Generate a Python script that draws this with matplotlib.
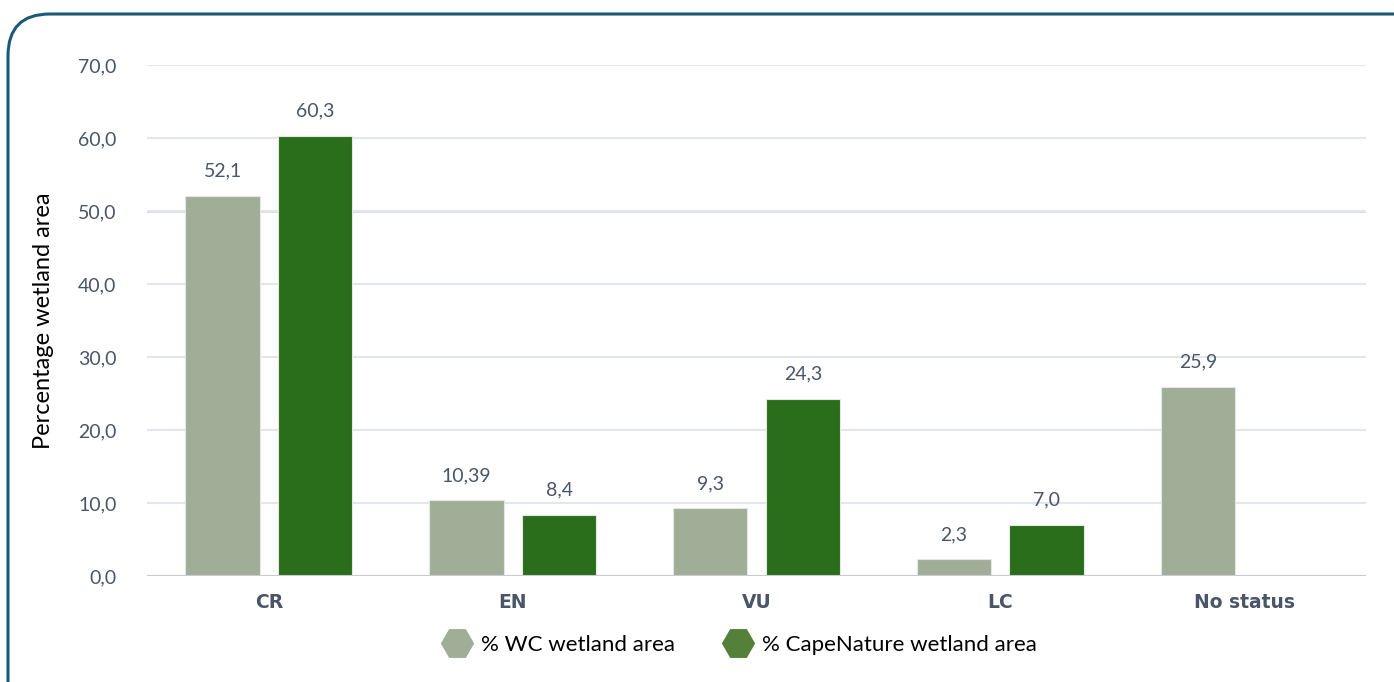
import matplotlib
matplotlib.use("Agg")
import matplotlib.pyplot as plt
from matplotlib.patches import FancyBboxPatch
from matplotlib.lines import Line2D
import numpy as np

categories = ["CR", "EN", "VU", "LC", "No status"]
wc_values = [52.1, 10.39, 9.3, 2.3, 25.9]
cn_values = [60.3, 8.4, 24.3, 7.0, None]
wc_labels = ["52,1", "10,39", "9,3", "2,3", "25,9"]
cn_labels = ["60,3", "8,4", "24,3", "7,0", ""]
yticks = [0, 10, 20, 30, 40, 50, 60, 70]
ytick_labels = ["0,0", "10,0", "20,0", "30,0", "40,0", "50,0", "60,0", "70,0"]
series_names = ["% WC wetland area", "% CapeNature wetland area"]

c_light = "#a0ae98"
c_dark = "#2a6e1c"
c_dark_leg = "#54803a"
txt = "#4a5568"

plt.rcParams['font.family'] = ['Lato', 'DejaVu Sans']

fig = plt.figure(figsize=(13.94, 6.82), dpi=100)
W, H = 1394, 682

# border
border = FancyBboxPatch((8 / W, -0.1), 1.2, (682 - 14) / H + 0.1,
                        boxstyle="round,pad=0,rounding_size=0.03",
                        transform=fig.transFigure, fill=False,
                        edgecolor="#1b5a78", linewidth=2.2,
                        mutation_aspect=W / H)
fig.patches.append(border)

ax = fig.add_axes([147 / W, 1 - 576 / H, (1366 - 147) / W, (576 - 65) / H])
x = np.arange(len(categories))
bw = 0.305
off = 0.19
wc_plot = [v if v is not None else 0 for v in wc_values]
cn_plot = [v if v is not None else 0 for v in cn_values]
b1 = ax.bar(x - off, wc_plot, bw, color=c_light, edgecolor="#e4e8e2", linewidth=0.8, zorder=3)
b2 = ax.bar(x + off, cn_plot, bw, color=c_dark, edgecolor="#e4e8e2", linewidth=0.8, zorder=3)
for i, v in enumerate(cn_values):
    if v is None:
        b2[i].set_visible(False)

for rect, lab in zip(b1, wc_labels):
    if lab:
        ax.text(rect.get_x() + rect.get_width() / 2, rect.get_height() + 2.2, lab,
                ha="center", va="bottom", fontsize=14, color=txt)
for rect, lab in zip(b2, cn_labels):
    if lab:
        ax.text(rect.get_x() + rect.get_width() / 2, rect.get_height() + 2.2, lab,
                ha="center", va="bottom", fontsize=14, color=txt)

ax.set_xlim(-0.5, len(categories) - 0.5)
ax.set_ylim(0, 70)
ax.set_yticks(yticks)
ax.set_yticklabels(ytick_labels, fontsize=14, color=txt)
ax.set_xticks(x)
ax.set_xticklabels(categories, fontsize=13.5, color=txt)
for t in ax.get_xticklabels():
    t.set_fontfamily("DejaVu Sans")
    t.set_fontweight("bold")
ax.tick_params(axis="both", length=0)
ax.tick_params(axis="y", pad=22)
ax.tick_params(axis="x", pad=12)
for s in ax.spines.values():
    s.set_visible(False)
ax.grid(axis="y", color="#e3e6ea", linewidth=1.5, zorder=0)
ax.axhline(50, color="#cfd3d6", linewidth=1.8, zorder=1)
ax.axhline(0, color="#c8ccd0", linewidth=2.2, zorder=4)
ax.set_ylabel("Percentage wetland area", fontsize=17, color="black", labelpad=17)

handles = [Line2D([], [], marker="H", linestyle="none", markersize=24, color=c_light, markeredgewidth=0),
           Line2D([], [], marker="H", linestyle="none", markersize=24, color=c_dark_leg, markeredgewidth=0)]
fig.legend(handles, series_names, loc="center", bbox_to_anchor=(738 / W, 1 - 645 / H),
           ncol=2, frameon=False, fontsize=16, handletextpad=0.3, columnspacing=2.0,
           handlelength=1.6)

fig.savefig("out.png", dpi=100)
